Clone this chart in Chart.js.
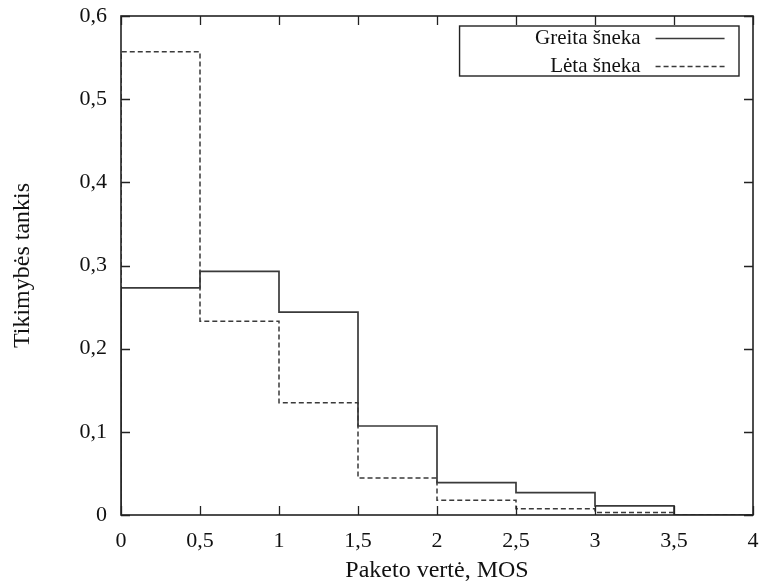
<!DOCTYPE html>
<html>
<head>
<meta charset="utf-8">
<script src="https://cdn.jsdelivr.net/npm/chart.js@4"></script>
<style>
  html, body { margin: 0; padding: 0; background: #fff; }
  #wrap { width: 763px; height: 586px; }
</style>
</head>
<body>
<div id="wrap"><canvas id="c" width="763" height="586"></canvas></div>
<script>
// Histogram bin edges (MOS value) and probability density per bin
const binEdges = [0, 0.5, 1, 1.5, 2, 2.5, 3, 3.5, 4];
const greitaDensity = [0.273, 0.293, 0.244, 0.107, 0.039, 0.027, 0.011, 0];
const letaDensity   = [0.557, 0.233, 0.135, 0.0445, 0.0177, 0.0076, 0.003, 0];
const seriesNames = ['Greita šneka', 'Lėta šneka'];
const xTicks = [0, 0.5, 1, 1.5, 2, 2.5, 3, 3.5, 4];
const yTicks = [0, 0.1, 0.2, 0.3, 0.4, 0.5, 0.6];
const xTitle = 'Paketo vertė, MOS';
const yTitle = 'Tikimybės tankis';

const FONT = '"Liberation Serif", "DejaVu Serif", serif';
const INK = '#222';

// Step outline: rise from zero at the left edge, then one point per bin left edge
function stepPoints(values) {
  const pts = [{ x: binEdges[0], y: 0 }];
  values.forEach((v, i) => pts.push({ x: binEdges[i], y: v }));
  pts.push({ x: binEdges[binEdges.length - 1], y: values[values.length - 1] });
  return pts;
}

const fmt = v => {
  if (Math.abs(v) < 1e-9) return '0';
  return String(Math.round(v * 10) / 10).replace('.', ',');
};

// Frame plus inward tick marks on all four sides, and the gnuplot-style key
const framePlugin = {
  id: 'frame',
  afterDatasetsDraw(chart) {
    const { ctx, chartArea: a, scales } = chart;
    const len = 9;
    ctx.save();
    ctx.strokeStyle = INK;
    ctx.lineWidth = 1.3;
    ctx.beginPath();
    xTicks.forEach(t => {
      const px = Math.round(scales.x.getPixelForValue(t)) + 0.5;
      ctx.moveTo(px, a.bottom); ctx.lineTo(px, a.bottom - len);
      ctx.moveTo(px, a.top); ctx.lineTo(px, a.top + len);
    });
    yTicks.forEach(t => {
      const py = Math.round(scales.y.getPixelForValue(t)) + 0.5;
      ctx.moveTo(a.left, py); ctx.lineTo(a.left + len, py);
      ctx.moveTo(a.right, py); ctx.lineTo(a.right - len, py);
    });
    ctx.stroke();
    ctx.lineWidth = 1.6;
    ctx.strokeRect(a.left, a.top, a.right - a.left, a.bottom - a.top);

    // key box
    const bx = a.left + (a.right - a.left) * 0.5357, by = a.top + 10;
    const bw = a.right - 14 - bx, bh = 50;
    ctx.lineWidth = 1.4;
    ctx.strokeRect(bx, by, bw, bh);
    ctx.font = '21px ' + FONT;
    ctx.fillStyle = '#111';
    ctx.textAlign = 'right';
    ctx.textBaseline = 'middle';
    chart.data.datasets.forEach((ds, i) => {
      const ry = by + 12 + i * 28;
      ctx.fillText(ds.label, bx + 181, ry);
      ctx.beginPath();
      ctx.strokeStyle = ds.borderColor;
      ctx.lineWidth = ds.borderWidth;
      ctx.setLineDash(ds.borderDash || []);
      ctx.moveTo(bx + 196, ry + 0.5);
      ctx.lineTo(bx + 265, ry + 0.5);
      ctx.stroke();
      ctx.setLineDash([]);
    });
    ctx.restore();
  }
};

new Chart(document.getElementById('c'), {
  type: 'line',
  data: {
    datasets: [
      {
        label: seriesNames[0],
        data: stepPoints(greitaDensity),
        stepped: 'before',
        borderColor: '#3a3a3a',
        borderWidth: 1.7,
        pointRadius: 0,
        fill: false
      },
      {
        label: seriesNames[1],
        data: stepPoints(letaDensity),
        stepped: 'before',
        borderColor: '#3a3a3a',
        borderWidth: 1.5,
        borderDash: [5, 3],
        pointRadius: 0,
        fill: false
      }
    ]
  },
  options: {
    responsive: false,
    animation: false,
    layout: { padding: { left: 0, right: 10, top: 16, bottom: 0 } },
    plugins: { legend: { display: false }, tooltip: { enabled: false } },
    scales: {
      x: {
        type: 'linear',
        min: 0, max: 4,
        afterBuildTicks: s => { s.ticks = xTicks.map(v => ({ value: v })); },
        afterFit: s => { s.height = 71; s.paddingLeft = 0; s.paddingRight = 0; },
        grid: { display: false, drawTicks: false },
        border: { display: false },
        ticks: {
          callback: fmt,
          color: '#111',
          font: { family: FONT, size: 22 },
          padding: 13,
          maxRotation: 0
        },
        title: {
          display: true,
          text: xTitle,
          color: '#111',
          font: { family: FONT, size: 24 },
          padding: { top: 0, bottom: 1 }
        }
      },
      y: {
        type: 'linear',
        min: 0, max: 0.6,
        afterBuildTicks: s => { s.ticks = yTicks.map(v => ({ value: v })); },
        afterFit: s => { s.width = 121; s.paddingTop = 0; s.paddingBottom = 0; },
        grid: { display: false, drawTicks: false },
        border: { display: false },
        ticks: {
          callback: fmt,
          color: '#111',
          font: { family: FONT, size: 22 },
          padding: 14
        },
        title: {
          display: true,
          text: yTitle,
          color: '#111',
          font: { family: FONT, size: 24 },
          padding: { top: 8, bottom: 0 }
        }
      }
    }
  },
  plugins: [framePlugin]
});
</script>
</body>
</html>
